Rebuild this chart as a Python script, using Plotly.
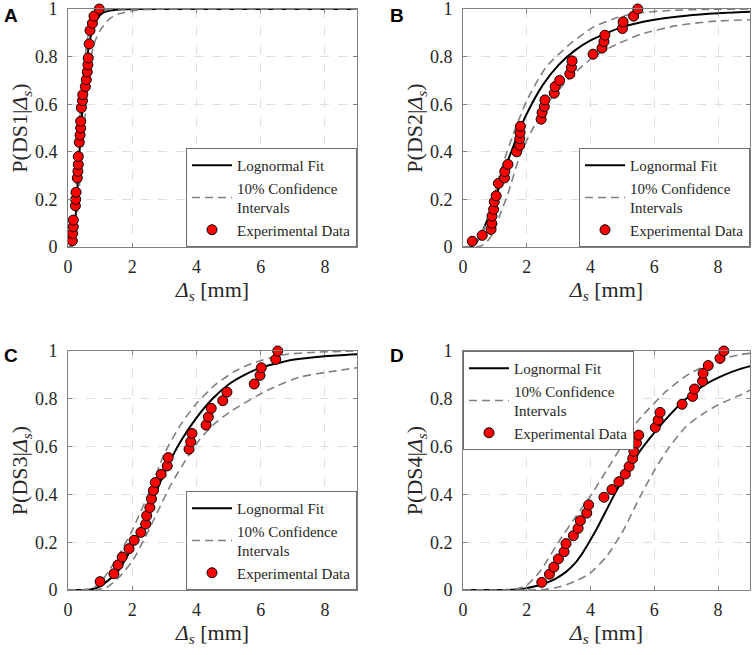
import plotly.graph_objects as go

# ---------------- data ----------------
# Panel A (DS1)
a_data_x = [0.135, 0.145, 0.165, 0.165, 0.23, 0.24, 0.25, 0.29, 0.31, 0.32, 0.32, 0.35,
            0.375, 0.395, 0.395, 0.415, 0.45, 0.46, 0.54, 0.57, 0.60, 0.62, 0.63, 0.66,
            0.685, 0.76, 0.81, 0.975]
a_data_y = [0.026, 0.057, 0.085, 0.113, 0.173, 0.20, 0.23, 0.29, 0.318, 0.347, 0.38, 0.44,
            0.47, 0.50, 0.528, 0.585, 0.615, 0.64, 0.674, 0.703, 0.736, 0.766, 0.794, 0.853,
            0.91, 0.94, 0.97, 1.0]
a_fit_x = [0, 0.05, 0.1, 0.15, 0.2, 0.25, 0.3, 0.35, 0.4, 0.5, 0.6, 0.7, 0.8, 1.0, 1.2, 1.5, 2.0, 3.0, 9.0]
a_fit_y = [0, 0.0, 0.002, 0.02, 0.07, 0.15, 0.26, 0.38, 0.49, 0.67, 0.80, 0.88, 0.93, 0.975, 0.99, 0.997, 1.0, 1.0, 1.0]
a_up_x = [0, 0.05, 0.1, 0.15, 0.2, 0.25, 0.3, 0.35, 0.4, 0.5, 0.6, 0.7, 0.8, 1.0, 1.3, 1.6, 3.0, 9.0]
a_up_y = [0, 0.0, 0.01, 0.05, 0.13, 0.25, 0.38, 0.50, 0.60, 0.76, 0.87, 0.93, 0.96, 0.99, 0.998, 1.0, 1.0, 1.0]
a_lo_x = [0, 0.1, 0.2, 0.3, 0.4, 0.5, 0.6, 0.7, 0.8, 1.0, 1.3, 1.6, 2.0, 2.5, 3.0, 9.0]
a_lo_y = [0, 0.0, 0.04, 0.16, 0.33, 0.50, 0.66, 0.78, 0.85, 0.91, 0.96, 0.98, 0.993, 0.998, 1.0, 1.0]

# Panel B (DS2)
b_data_x = [0.29, 0.605, 0.88, 0.90, 0.91, 0.96, 0.98, 1.04, 1.11, 1.30, 1.31, 1.41,
            1.68, 1.78, 1.78, 1.79, 1.80, 2.45, 2.48, 2.55, 2.57, 2.86, 2.89, 3.03,
            3.35, 3.40, 3.42, 4.08, 4.36, 4.42, 4.45, 5.00, 5.02, 5.35, 5.48]
b_data_y = [0.024, 0.049, 0.074, 0.10, 0.13, 0.158, 0.19, 0.215, 0.267, 0.29, 0.317, 0.347,
            0.40, 0.427, 0.455, 0.481, 0.507, 0.537, 0.565, 0.59, 0.618, 0.646, 0.674, 0.70,
            0.727, 0.755, 0.782, 0.81, 0.836, 0.863, 0.89, 0.918, 0.946, 0.97, 1.0]
b_fit_x = [0, 0.2, 0.4, 0.6, 0.8, 1.0, 1.2, 1.4, 1.6, 1.8, 2.0, 2.5, 3.0, 3.5, 4.0, 5.0, 6.0, 7.0, 8.0, 9.0]
b_fit_y = [0, 0.0, 0.017, 0.061, 0.127, 0.20, 0.28, 0.36, 0.43, 0.50, 0.56, 0.68, 0.765, 0.825, 0.868, 0.925, 0.955, 0.972, 0.982, 0.988]
b_up_x = [0, 0.2, 0.35, 0.6, 0.85, 1.16, 1.58, 2.0, 2.6, 3.35, 4.1, 4.8, 5.5, 6.5, 7.5, 9.0]
b_up_y = [0, 0.0, 0.01, 0.06, 0.14, 0.31, 0.475, 0.615, 0.755, 0.852, 0.925, 0.962, 0.983, 0.994, 0.998, 1.0]
b_lo_x = [0, 0.4, 0.55, 0.8, 0.95, 1.2, 1.4, 1.8, 2.2, 2.8, 3.5, 4.1, 4.8, 5.6, 6.7, 7.8, 9.0]
b_lo_y = [0, 0.0, 0.003, 0.03, 0.06, 0.15, 0.22, 0.39, 0.50, 0.63, 0.73, 0.80, 0.85, 0.895, 0.93, 0.948, 0.955]

# Panel C (DS3)
c_data_x = [1.00, 1.43, 1.56, 1.69, 1.90, 2.06, 2.27, 2.42, 2.45, 2.55, 2.60, 2.66, 2.72,
            2.90, 3.09, 3.12, 3.77, 3.82, 3.86, 4.30, 4.37, 4.46, 4.82, 4.95, 5.80, 5.98,
            6.02, 6.47, 6.53]
c_data_y = [0.035, 0.068, 0.105, 0.138, 0.173, 0.208, 0.241, 0.276, 0.311, 0.345, 0.381, 0.416, 0.45,
            0.484, 0.519, 0.554, 0.589, 0.62, 0.655, 0.69, 0.724, 0.76, 0.792, 0.828, 0.862, 0.898,
            0.93, 0.965, 1.0]
c_fit_x = [0, 0.4, 0.7, 1.0, 1.5, 2.0, 2.5, 3.0, 3.5, 4.0, 4.5, 5.0, 5.5, 6.0, 7.0, 8.0, 9.0]
c_fit_y = [0, 0.0, 0.002, 0.015, 0.07, 0.18, 0.33, 0.49, 0.62, 0.72, 0.80, 0.86, 0.90, 0.93, 0.963, 0.978, 0.986]
c_up_x = [0, 0.5, 0.8, 1.0, 1.3, 1.6, 2.0, 2.5, 3.0, 3.5, 4.0, 4.6, 5.2, 5.7, 6.7, 7.7, 9.0]
c_up_y = [0, 0.0, 0.01, 0.03, 0.085, 0.15, 0.25, 0.40, 0.57, 0.69, 0.78, 0.86, 0.915, 0.947, 0.984, 0.995, 1.0]
c_lo_x = [0, 0.8, 1.2, 1.6, 2.0, 2.4, 2.8, 3.2, 3.6, 4.1, 4.6, 5.1, 6.2, 7.2, 8.0, 9.0]
c_lo_y = [0, 0.0, 0.01, 0.055, 0.12, 0.22, 0.33, 0.44, 0.53, 0.63, 0.70, 0.75, 0.835, 0.89, 0.91, 0.93]

# Panel D (DS4)
d_data_x = [2.47, 2.71, 2.85, 2.99, 3.17, 3.23, 3.46, 3.61, 3.68, 3.88, 3.94, 4.42, 4.67,
            4.89, 5.09, 5.21, 5.32, 5.36, 5.44, 5.51, 6.03, 6.12, 6.18, 6.87, 7.20, 7.26,
            7.51, 7.53, 7.69, 8.06, 8.18]
d_data_y = [0.032, 0.066, 0.096, 0.13, 0.16, 0.194, 0.227, 0.258, 0.29, 0.322, 0.356, 0.388, 0.42,
            0.453, 0.485, 0.517, 0.55, 0.58, 0.615, 0.648, 0.68, 0.711, 0.743, 0.777, 0.81, 0.841,
            0.874, 0.907, 0.939, 0.969, 1.0]
d_fit_x = [0, 1.3, 1.8, 2.0, 2.4, 2.8, 3.0, 3.25, 3.5, 3.75, 4.0, 4.25, 4.5, 4.75, 5.0, 5.44, 5.86,
           6.5, 7.0, 7.6, 8.2, 8.7, 9.0]
d_fit_y = [0, 0.0, 0.003, 0.008, 0.02, 0.04, 0.055, 0.078, 0.11, 0.155, 0.21, 0.27, 0.335, 0.40,
           0.46, 0.56, 0.635, 0.735, 0.80, 0.86, 0.90, 0.925, 0.936]
d_up_x = [0, 1.4, 1.7, 2.0, 2.41, 3.04, 3.5, 3.98, 4.5, 5.03, 5.5, 6.4, 7.1, 8.0, 8.7, 9.0]
d_up_y = [0, 0.0, 0.006, 0.02, 0.077, 0.21, 0.30, 0.39, 0.50, 0.614, 0.71, 0.835, 0.905, 0.962, 0.985, 0.99]
d_lo_x = [0, 2.0, 2.6, 3.04, 3.5, 3.98, 4.5, 5.03, 5.55, 6.0, 6.4, 7.0, 7.5, 8.0, 8.7, 9.0]
d_lo_y = [0, 0.0, 0.003, 0.014, 0.035, 0.07, 0.14, 0.25, 0.39, 0.50, 0.585, 0.685, 0.735, 0.775, 0.816, 0.836]

panel_letters = ["A", "B", "C", "D"]
ylabels = ["P(DS1|<i>Δ<sub>s</sub></i>)", "P(DS2|<i>Δ<sub>s</sub></i>)",
           "P(DS3|<i>Δ<sub>s</sub></i>)", "P(DS4|<i>Δ<sub>s</sub></i>)"]
xlabel = "<i>Δ<sub>s</sub></i> [mm]"
x_ticks = [0, 2, 4, 6, 8]
y_ticks = [0, 0.2, 0.4, 0.6, 0.8, 1]
y_ticktext = ["0", "0.2", "0.4", "0.6", "0.8", "1"]
legend_names = ["Lognormal Fit", "10% Confidence<br>Intervals", "Experimental Data"]

panels = [
    (a_data_x, a_data_y, a_fit_x, a_fit_y, a_up_x, a_up_y, a_lo_x, a_lo_y),
    (b_data_x, b_data_y, b_fit_x, b_fit_y, b_up_x, b_up_y, b_lo_x, b_lo_y),
    (c_data_x, c_data_y, c_fit_x, c_fit_y, c_up_x, c_up_y, c_lo_x, c_lo_y),
    (d_data_x, d_data_y, d_fit_x, d_fit_y, d_up_x, d_up_y, d_lo_x, d_lo_y),
]

# ---------------- layout geometry ----------------
W, H = 754, 655
xdoms = [(68 / W, 357 / W), (463 / W, 750 / W), (68 / W, 357 / W), (463 / W, 750 / W)]
ydoms = [(1 - 247 / H, 1 - 9 / H), (1 - 247 / H, 1 - 9 / H),
         (1 - 590 / H, 1 - 351 / H), (1 - 590 / H, 1 - 351 / H)]

SERIF = "Liberation Serif"
FRAME = "#808080"
TXT = "#262626"

fig = go.Figure()
for i, (dx, dy, fx, fy, ux, uy, lx, ly) in enumerate(panels):
    n = "" if i == 0 else str(i + 1)
    xa, ya = "x" + n, "y" + n
    lg = "legend" + n
    fig.add_trace(go.Scatter(x=fx, y=fy, mode="lines", name=legend_names[0],
                             line=dict(color="black", width=2, shape="spline", smoothing=0.6),
                             xaxis=xa, yaxis=ya, legend=lg))
    fig.add_trace(go.Scatter(x=ux, y=uy, mode="lines", name=legend_names[1],
                             line=dict(color="#808080", width=1.6, dash="8px,5px", shape="spline", smoothing=0.6),
                             xaxis=xa, yaxis=ya, legend=lg))
    fig.add_trace(go.Scatter(x=lx, y=ly, mode="lines", name=legend_names[1], showlegend=False,
                             line=dict(color="#808080", width=1.6, dash="8px,5px", shape="spline", smoothing=0.6),
                             xaxis=xa, yaxis=ya, legend=lg))
    fig.add_trace(go.Scatter(x=dx, y=dy, mode="markers", name=legend_names[2],
                             marker=dict(color="#ff0000", size=10, line=dict(color="black", width=1)),
                             xaxis=xa, yaxis=ya, legend=lg, cliponaxis=False))

layout = dict(width=W, height=H, margin=dict(l=0, r=0, t=0, b=0),
              paper_bgcolor="white", plot_bgcolor="white",
              font=dict(family=SERIF, color=TXT))

for i in range(4):
    n = "" if i == 0 else str(i + 1)
    layout["xaxis" + n] = dict(
        domain=list(xdoms[i]), anchor="y" + n, range=[0, 9], tickvals=x_ticks,
        showline=True, mirror="ticks", linecolor=FRAME, linewidth=1,
        ticks="inside", ticklen=4, tickcolor=FRAME,
        showgrid=True, gridcolor="#dedede", griddash="dash", gridwidth=1,
        zeroline=False, automargin=False, ticklabeloverflow="allow", ticklabelstandoff=3,
        tickfont=dict(family=SERIF, size=18, color=TXT),
        title=dict(text=xlabel, font=dict(family=SERIF, size=22, color=TXT), standoff=0),
    )
    layout["yaxis" + n] = dict(
        domain=list(ydoms[i]), anchor="x" + n, range=[0, 1], tickvals=y_ticks, ticktext=y_ticktext,
        showline=True, mirror="ticks", linecolor=FRAME, linewidth=1,
        ticks="inside", ticklen=4, tickcolor=FRAME,
        showgrid=True, gridcolor="#dedede", griddash="dash", gridwidth=1,
        zeroline=False, automargin=False, ticklabeloverflow="allow", ticklabelstandoff=6,
        tickfont=dict(family=SERIF, size=18, color=TXT),
        title=dict(text=ylabels[i], font=dict(family=SERIF, size=22, color=TXT), standoff=0),
    )
    if i < 3:
        lx_, ly_, xa_, ya_ = xdoms[i][1], ydoms[i][0], "right", "bottom"
    else:
        lx_, ly_, xa_, ya_ = xdoms[i][0], ydoms[i][1], "left", "top"
    layout["legend" + n] = dict(
        x=lx_, y=ly_, xanchor=xa_, yanchor=ya_, xref="paper", yref="paper",
        bgcolor="white", bordercolor="#6e6e6e", borderwidth=1,
        font=dict(family=SERIF, size=15, color=TXT),
        itemwidth=40, tracegroupgap=0,
    )

fig.update_layout(**layout)

letter_pos = [(2, 3), (388, 3), (2, 343), (388, 343)]
for letter, (px, py) in zip(panel_letters, letter_pos):
    fig.add_annotation(text="<b>%s</b>" % letter, xref="paper", yref="paper",
                       x=px / W, y=1 - py / H, xanchor="left", yanchor="top",
                       showarrow=False,
                       font=dict(family="Liberation Sans", size=19, color="black"))

fig.write_html("out.html", config={"displayModeBar": False},
               post_script="document.body.style.margin='0px';")
